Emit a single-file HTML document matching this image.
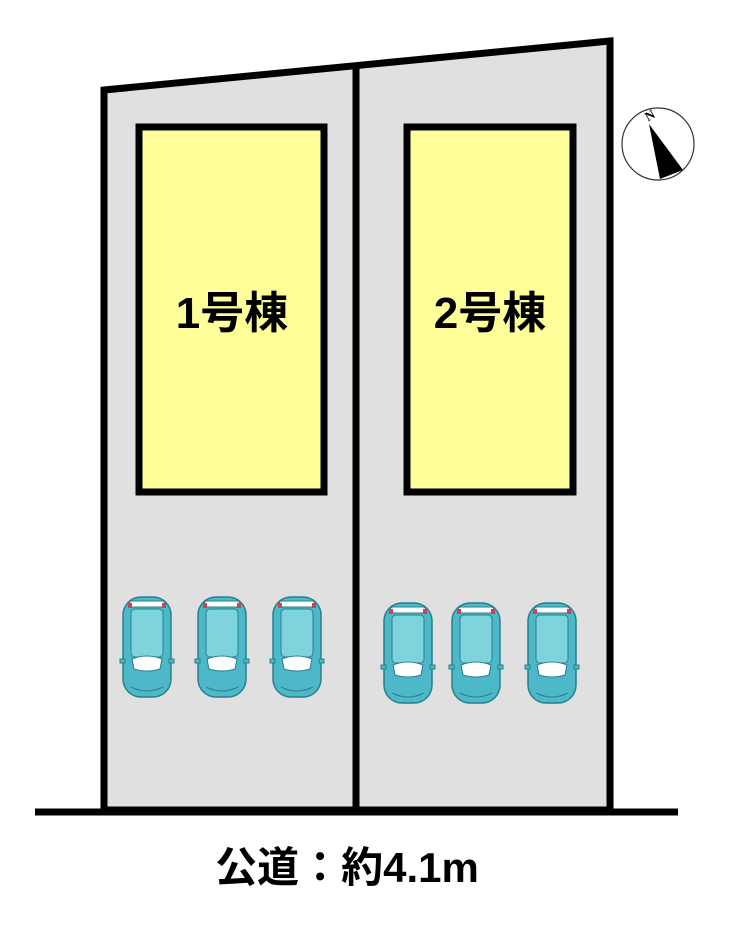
<!DOCTYPE html>
<html><head><meta charset="utf-8"><style>
body{margin:0;background:#fff;width:740px;height:929px;overflow:hidden}
svg{display:block}
</style></head><body>
<svg width="740" height="929" viewBox="0 0 740 929">
<defs>
<g id="car">
<rect x="-24" y="0" width="48" height="100" rx="18" fill="#4cb8c8" stroke="#2a7f8c" stroke-width="1.5"/>
<rect x="-16" y="12" width="32" height="48" rx="4" fill="#7fd3dd" stroke="#2a7f8c" stroke-width="1"/>
<path d="M-15 62 Q0 56 15 62 L13 72 Q0 76 -13 72 Z" fill="#fff" stroke="#2a7f8c" stroke-width="1"/>
<rect x="-18" y="4" width="36" height="6" rx="3" fill="#fff" stroke="#2a7f8c" stroke-width="1"/>
<rect x="-19" y="6" width="4" height="5" fill="#d04050"/>
<rect x="15" y="6" width="4" height="5" fill="#d04050"/>
<path d="M-16 90 Q0 98 16 90" fill="none" stroke="#2a7f8c" stroke-width="1"/>
<rect x="-27" y="62" width="5" height="4" fill="#4cb8c8" stroke="#2a7f8c" stroke-width="1"/>
<rect x="22" y="62" width="5" height="4" fill="#4cb8c8" stroke="#2a7f8c" stroke-width="1"/>
</g>
</defs>
<polygon points="104,90 610,41 610,810 104,810" fill="#e0e0e0" stroke="#000" stroke-width="7"/>
<line x1="356" y1="66" x2="356" y2="812" stroke="#000" stroke-width="7"/>
<line x1="35" y1="812" x2="678" y2="812" stroke="#000" stroke-width="7"/>
<rect x="139" y="127" width="185" height="365" fill="#ffff99" stroke="#000" stroke-width="7"/>
<rect x="407" y="127" width="166" height="365" fill="#ffff99" stroke="#000" stroke-width="7"/>
<text x="232" y="328" font-family="Liberation Sans,'Noto Sans CJK JP',sans-serif" font-size="44" font-weight="bold" text-anchor="middle">1号棟</text>
<text x="490" y="328" font-family="Liberation Sans,'Noto Sans CJK JP',sans-serif" font-size="44" font-weight="bold" text-anchor="middle">2号棟</text>
<use href="#car" x="147" y="597"/>
<use href="#car" x="222" y="597"/>
<use href="#car" x="297" y="597"/>
<use href="#car" x="408" y="603"/>
<use href="#car" x="476" y="603"/>
<use href="#car" x="552" y="603"/>
<circle cx="658" cy="144" r="36" fill="#fff" stroke="#333" stroke-width="1.2"/>
<polygon points="649,124 683,170 660,179" fill="#000"/>
<text x="646" y="122" font-family="Liberation Serif,serif" font-size="13" font-weight="bold" transform="rotate(-30 646 118)">N</text>
<text x="347" y="882" font-family="Liberation Sans,'Noto Sans CJK JP',sans-serif" font-size="42" font-weight="bold" text-anchor="middle">公道：約4.1m</text>
</svg>
</body></html>
